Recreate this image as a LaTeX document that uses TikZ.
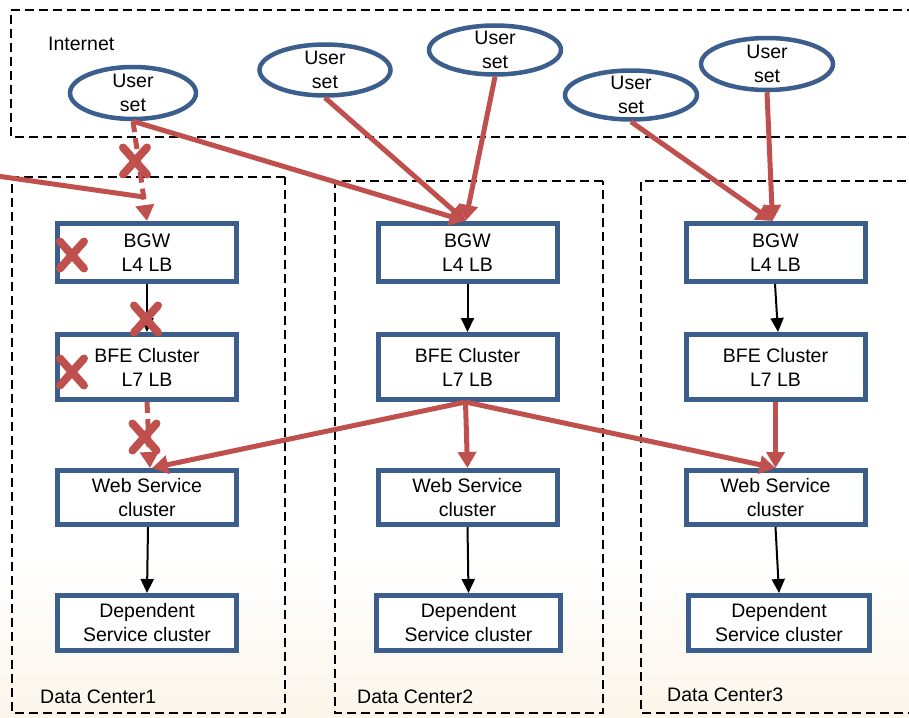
\documentclass[tikz,border=0pt]{standalone}
\usepackage{fontspec}
\setmainfont{Liberation Sans}
\usetikzlibrary{arrows.meta,shapes.geometric,shapes.misc}
\definecolor{boxblue}{RGB}{59,94,140}
\definecolor{linkred}{RGB}{192,80,77}
\definecolor{warmtint}{RGB}{252,245,234}

\begin{document}
\begin{tikzpicture}[x=1pt,y=-1pt,
  every node/.style={font=\fontsize{19.5}{24}\selectfont},
  zone/.style={draw=black, line width=2.5pt, dash pattern=on 9pt off 5pt},
  zonelabel/.style={anchor=base west, inner sep=0pt},
  usergroup/.style={ellipse, draw=boxblue, line width=4.5pt, fill=white, inner sep=0pt,
    label={[align=center, inner sep=0pt]center:User\\set}},
  service/.style={rectangle, draw=boxblue, line width=5pt, fill=white, align=center,
    inner sep=0pt, minimum width=179pt},
  redlink/.style={draw=linkred, line width=5pt, -{Triangle[length=16pt,width=18pt]}},
  brokenlink/.style={redlink, dash pattern=on 11pt off 6pt},
  blacklink/.style={draw=black, line width=2pt, -{Triangle[length=14pt,width=13pt]}},
  failmark/.style={cross out, draw=linkred, line width=8pt, line cap=round,
    minimum width=16pt, minimum height=19pt, inner sep=0pt}]

\useasboundingbox (0,0) rectangle (909,717);
% faint warm tint towards the bottom of the sheet
\fill[top color=white, bottom color=warmtint, draw=none] (0,560) rectangle (909,717);

% zones
\draw[zone] (11,10) -- (920,10) (920,137) -- (11,137) -- (11,10);
\draw[zone] (285,177) -- (12,177) -- (12,713) -- (285,713) -- cycle;
\draw[zone] (603,181) -- (335,181) -- (335,713) -- (603,713) -- cycle;
\draw[zone] (920,181) -- (641,181) -- (641,713) -- (920,713);

\node[zonelabel] (lblnet) at (48,50) {Internet};
\node[zonelabel] (lbldc1) at (40,703) {Data Center1};
\node[zonelabel] (lbldc2) at (357,703) {Data Center2};
\node[zonelabel] (lbldc3) at (667,701) {Data Center3};

% user sets
\node[usergroup, minimum width=126pt, minimum height=52pt] (u1) at (133,93) {};
\node[usergroup, minimum width=131pt, minimum height=51pt] (u2) at (325,70) {};
\node[usergroup, minimum width=132pt, minimum height=49pt] (u3) at (495,50) {};
\node[usergroup, minimum width=132pt, minimum height=49pt] (u4) at (631,95) {};
\node[usergroup, minimum width=132pt, minimum height=52pt] (u5) at (767,64) {};

% data center 1
\node[service, minimum height=58pt] (bgw1) at (147,252.5) {BGW\\L4 LB};
\node[service, minimum height=65pt] (bfe1) at (147,367) {BFE Cluster\\L7 LB};
\node[service, minimum height=54pt] (web1) at (147,497.5) {Web Service\\cluster};
\node[service, minimum height=55pt] (dep1) at (147,623) {Dependent\\Service cluster};

% data center 2
\node[service, minimum height=58pt] (bgw2) at (467.5,252.5) {BGW\\L4 LB};
\node[service, minimum height=65pt] (bfe2) at (467.5,367) {BFE Cluster\\L7 LB};
\node[service, minimum height=54pt] (web2) at (467.5,497.5) {Web Service\\cluster};
\node[service, minimum height=55pt, minimum width=184pt] (dep2) at (468.5,623) {Dependent\\Service cluster};

% data center 3
\node[service, minimum height=58pt] (bgw3) at (775.5,252.5) {BGW\\L4 LB};
\node[service, minimum height=65pt] (bfe3) at (775.5,367) {BFE Cluster\\L7 LB};
\node[service, minimum height=54pt] (web3) at (775.5,497.5) {Web Service\\cluster};
\node[service, minimum height=55pt, minimum width=181pt] (dep3) at (779,623) {Dependent\\Service cluster};

% traffic inside each data center
\draw[blacklink] (bgw1.south) -- (bfe1.north);
\draw[blacklink] (bgw2.south) -- (bfe2.north);
\draw[blacklink] ([xshift=-0.5pt]bgw3.south) -- ([xshift=2.5pt]bfe3.north);
\draw[blacklink] ([xshift=1pt]web1.south) -- (dep1.north);
\draw[blacklink] (web2.south) -- (dep2.north);
\draw[blacklink] (web3.south) -- (dep3.north);

% user traffic into the gateways
\coordinate (offleft) at (-3,176);
\coordinate (joinpt) at (144,197);
\draw[draw=linkred, line width=5pt] (offleft) -- (joinpt);
\draw[brokenlink] (u1.south) -- (bgw1.north);
\draw[redlink] (u1.south) -- ([xshift=-2pt]bgw2.north);
\draw[redlink] (u2.south) -- ([xshift=-2pt]bgw2.north);
\draw[redlink] (u3.south) -- ([xshift=-2pt]bgw2.north);
\draw[redlink] (u4.south) -- ([xshift=-3pt]bgw3.north);
\draw[redlink] (u5.south) -- ([xshift=-3pt]bgw3.north);

% failover from the BFE clusters to the web services
\draw[brokenlink] (bfe1.south) -- ([xshift=3pt]web1.north);
\draw[redlink] ([xshift=-2pt]bfe2.south) -- ([xshift=5pt]web1.north);
\draw[redlink] ([xshift=-2pt]bfe2.south) -- (web2.north);
\draw[redlink] ([xshift=-2pt]bfe2.south) -- (web3.north);
\draw[redlink] (bfe3.south) -- (web3.north);

% failure marks
\node[failmark] (fail1) at (135,161) {};
\node[failmark] (fail2) at (72,255) {};
\node[failmark] (fail3) at (146,319) {};
\node[failmark] (fail4) at (72,372) {};
\node[failmark] (fail5) at (144.5,437) {};
\end{tikzpicture}
\end{document}
